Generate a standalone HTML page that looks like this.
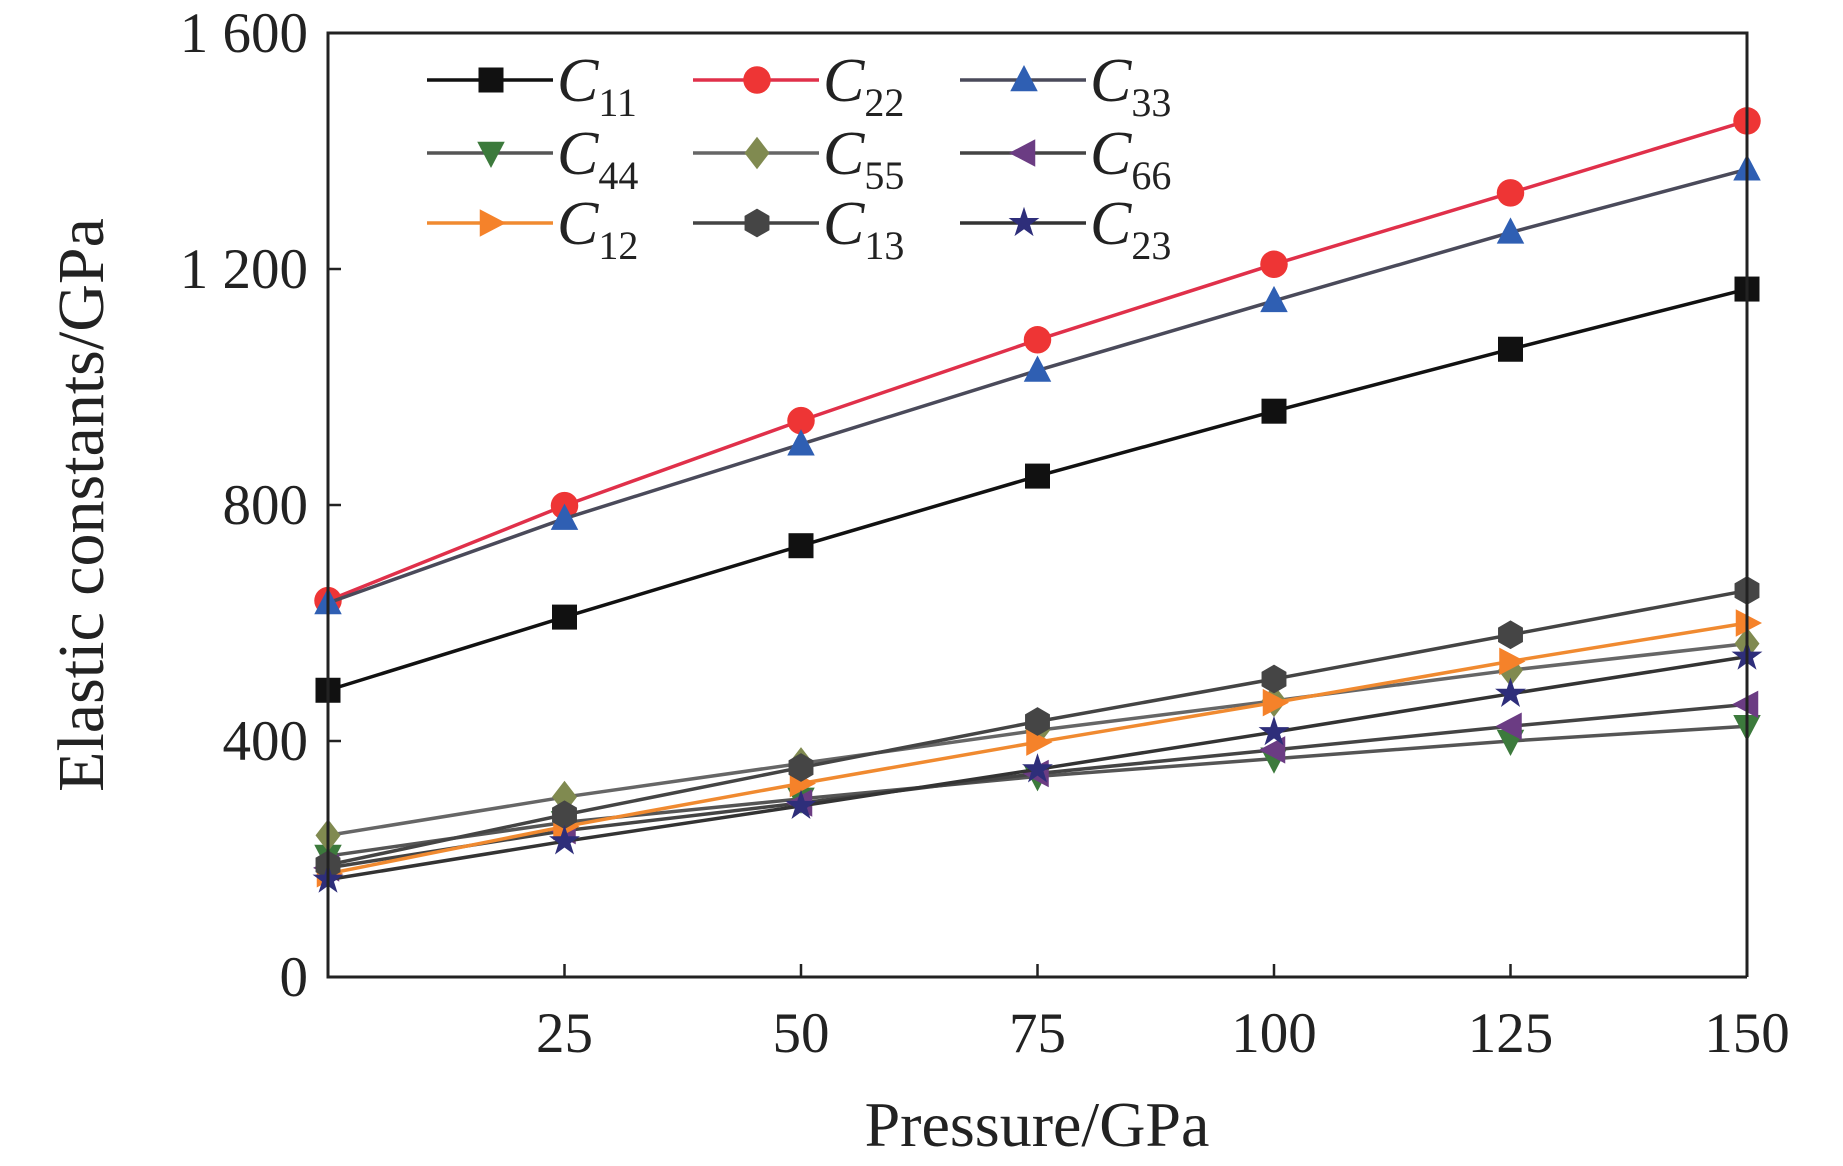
<!DOCTYPE html>
<html><head><meta charset="utf-8"><style>
html,body{margin:0;padding:0;background:#fff;}
svg{display:block;font-family:"Liberation Serif",serif;}
</style></head><body>
<svg id="chart" width="1843" height="1166" viewBox="0 0 1843 1166" xmlns="http://www.w3.org/2000/svg">
<rect width="1843" height="1166" fill="#fff"/>
<g id="series"></g>
<g id="axes"></g>
<g id="legend"></g>
<text x="1037" y="1146" font-size="64" text-anchor="middle" fill="#222">Pressure/GPa</text>
<text x="0" y="0" font-size="66" text-anchor="middle" fill="#222" transform="translate(103,505) rotate(-90)">Elastic constants/GPa</text>
</svg>
<script>
const pressures=[0,25,50,75,100,125,150];
const xTicks=[25,50,75,100,125,150];
const yTicks=[0,400,800,1200,1600];
const yTickLabels=["0","400","800","1 200","1 600"];
const seriesNames=["C11","C22","C33","C44","C55","C66","C12","C13","C23"];
const c11=[486,610,731,849,959,1064,1166];
const c22=[638,799,943,1080,1208,1329,1451];
const c33=[634,777,903,1028,1146,1262,1369];
const c44=[205,262,302,340,370,400,425];
const c55=[240,305,362,418,468,520,565];
const c66=[185,248,295,345,385,425,462];
const c12=[175,255,328,398,465,535,600];
const c13=[190,275,355,433,505,580,655];
const c23=[165,230,290,352,415,480,543];
const L=328,R=1747,T=33,B=977;
const xs=v=>L+(v/150)*(R-L);
const ys=v=>B-(v/1600)*(B-T);
const NS="http://www.w3.org/2000/svg";
function mk(tag,attrs,parent){const e=document.createElementNS(NS,tag);for(const k in attrs)e.setAttribute(k,attrs[k]);parent.appendChild(e);return e;}
const styles=[
 {d:c11,line:"#111",fill:"#111",m:"square"},
 {d:c22,line:"#e0304a",fill:"#ee3535",m:"circle"},
 {d:c33,line:"#4a4a5a",fill:"#2f5fb3",m:"tri-up"},
 {d:c44,line:"#555",fill:"#3c7a3c",m:"tri-down"},
 {d:c55,line:"#666",fill:"#808a50",m:"diamond"},
 {d:c66,line:"#444",fill:"#6b3c83",m:"tri-left"},
 {d:c12,line:"#f08a30",fill:"#f5822a",m:"tri-right"},
 {d:c13,line:"#444",fill:"#454545",m:"hexagon"},
 {d:c23,line:"#333",fill:"#2e2e7a",m:"star"}];
function marker(type,x,y,s,fill,parent){
 let pts;
 if(type==="square")return mk("rect",{x:x-s,y:y-s,width:2*s,height:2*s,fill:fill},parent);
 if(type==="circle")return mk("circle",{cx:x,cy:y,r:s*1.1,fill:fill},parent);
 if(type==="tri-up")pts=[[0,-1.2],[1.1,0.9],[-1.1,0.9]];
 if(type==="tri-down")pts=[[0,1.2],[1.1,-0.9],[-1.1,-0.9]];
 if(type==="tri-left")pts=[[-1.2,0],[0.9,-1.1],[0.9,1.1]];
 if(type==="tri-right")pts=[[1.2,0],[-0.9,-1.1],[-0.9,1.1]];
 if(type==="diamond")pts=[[0,-1.3],[1,0],[0,1.3],[-1,0]];
 if(type==="hexagon"){pts=[];for(let i=0;i<6;i++){const a=Math.PI/3*i+Math.PI/2;pts.push([Math.cos(a)*1.15,Math.sin(a)*1.15]);}}
 if(type==="star"){pts=[];for(let i=0;i<10;i++){const a=Math.PI/5*i-Math.PI/2;const r=i%2?0.5:1.3;pts.push([Math.cos(a)*r,Math.sin(a)*r]);}}
 return mk("polygon",{points:pts.map(p=>(x+p[0]*s)+","+(y+p[1]*s)).join(" "),fill:fill},parent);
}
const sg=document.getElementById("series");
styles.forEach((st,i)=>{
 const g=mk("g",{},sg);
 
 
 const pl=mk("polyline",{points:st.d.map((v,j)=>xs(pressures[j])+","+ys(v)).join(" "),fill:"none",stroke:st.line,"stroke-width":3.5},g);
 
 
 st.d.forEach((v,j)=>{
  const m=marker(st.m,xs(pressures[j]),ys(v),12.5,st.fill,g);
  
  
 });
});
const ag=document.getElementById("axes");
const frame=mk("polyline",{points:`${R},${B} ${L},${B} ${L},${T} ${R},${T} ${R},${B}`,fill:"none",stroke:"#222","stroke-width":3},ag);


xTicks.forEach(v=>{
 const t=mk("line",{x1:xs(v),x2:xs(v),y1:B,y2:B-13,stroke:"#222","stroke-width":2.5},ag);
 
 
 const tx=mk("text",{x:xs(v),y:1052,"font-size":57,"text-anchor":"middle",fill:"#222"},ag);
 tx.textContent=v;
 
 
});
yTicks.forEach((v,i)=>{
 const t=mk("line",{x1:L,x2:L+13,y1:ys(v),y2:ys(v),stroke:"#222","stroke-width":2.5},ag);
 
 
 const tx=mk("text",{x:308,y:ys(v)+19,"font-size":57,"text-anchor":"end",fill:"#222"},ag);
 tx.textContent=yTickLabels[i];
 
 
});
const lg=document.getElementById("legend");
const colX=[427,693,960], rowY=[80,153,223];
styles.forEach((st,i)=>{
 const cx=colX[i%3], cy=rowY[Math.floor(i/3)];
 const g=mk("g",{},lg);
 
 
 mk("line",{x1:cx,x2:cx+126,y1:cy,y2:cy,stroke:st.line,"stroke-width":3.5},g);
 marker(st.m,cx+64,cy,12.5,st.fill,g);
 const t=mk("text",{x:cx+130,y:cy+21,"font-size":62,fill:"#222"},g);
 const a=mk("tspan",{"font-style":"italic"},t);a.textContent="C";
 const b=mk("tspan",{"font-size":40,dy:15},t);b.textContent=seriesNames[i].slice(1);
});
</script>
</body></html>
